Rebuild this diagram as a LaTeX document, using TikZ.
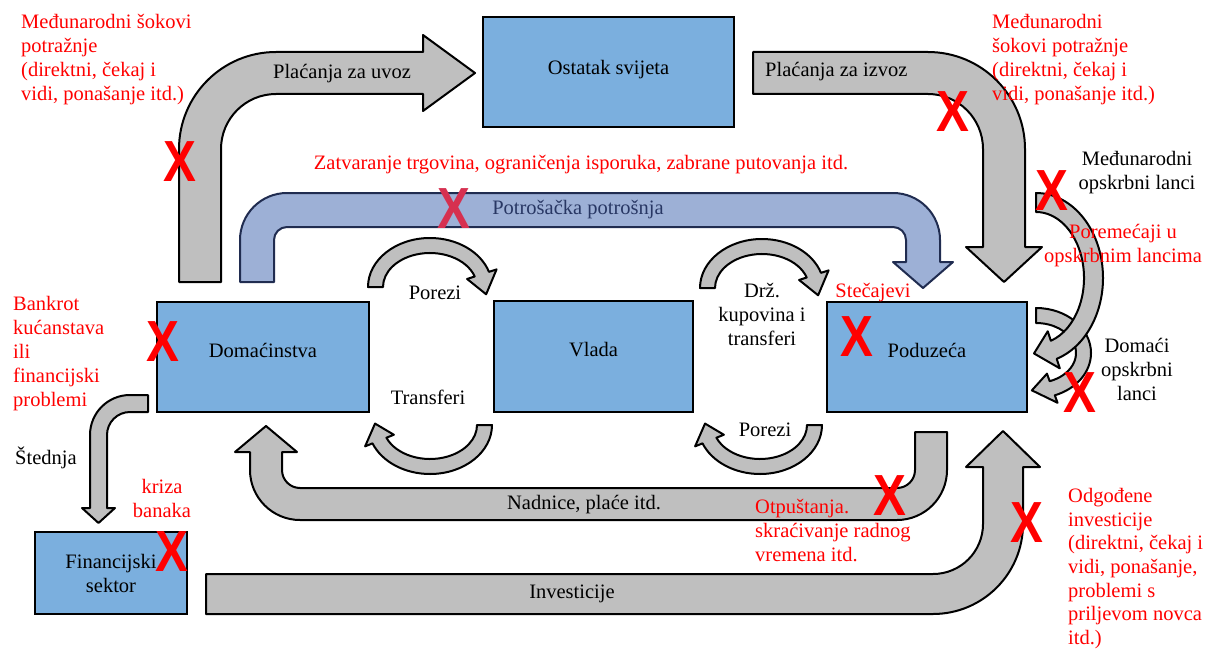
\documentclass[tikz,border=0pt]{standalone}
\usepackage{fontspec}
\setmainfont{Liberation Serif}
\newfontfamily\xfont{Liberation Sans}
\usepackage{graphicx}
\definecolor{boxblue}{RGB}{123,175,222}
\definecolor{arrowgray}{RGB}{191,191,191}
\definecolor{arrowblue}{RGB}{157,176,214}
\definecolor{navyline}{RGB}{32,44,80}
\definecolor{navytext}{RGB}{40,55,100}
\definecolor{crimsonx}{RGB}{214,48,80}
\newcommand\lblfont{\fontsize{20.5}{24}\selectfont}
\newcommand\xmarkfont{\xfont\bfseries\fontsize{58}{58}\selectfont}
\newcommand\xglyph{\scalebox{0.85}[1]{X}}
\begin{document}
\begin{tikzpicture}[x=1pt,y=-1pt,
  box/.style={draw=black, line width=2.2pt, fill=boxblue, inner sep=0pt, font=\lblfont},
  garrow/.style={draw=black, line width=2pt, fill=arrowgray, line join=round},
  barrow/.style={draw=navyline, line width=2pt, fill=arrowblue, line join=round},
  lbl/.style={inner sep=0pt, font=\lblfont},
  rlbl/.style={lbl, text=red},
  xmark/.style={inner sep=0pt, text=red, font=\xmarkfont},
  toparc/.pic={
    \draw[garrow] (180:62 and 49) arc[start angle=180,end angle=342,x radius=62,y radius=49]
      -- (342:70 and 57) -- (10:57 and 42) -- (342:39 and 26) -- (342:47 and 34)
      arc[start angle=342,end angle=180,x radius=47,y radius=34] -- cycle;},
  botarc/.pic={
    \draw[garrow] (0:62 and 49) arc[start angle=0,end angle=158,x radius=62,y radius=49]
      -- (158:70 and 57) -- (182:55 and 41) -- (158:39 and 26) -- (158:47 and 34)
      arc[start angle=158,end angle=0,x radius=47,y radius=34] -- cycle;}
]
\fill[white] (0,0) rectangle (1212,650);
\useasboundingbox (0,0) rectangle (1212,650);

% big arrows
\draw[garrow] (179,282) -- (179,149) arc[start angle=180,end angle=270,radius=97] -- (423,52) -- (423,35) -- (475,73) -- (423,111) -- (423,94) -- (276,94) arc[start angle=270,end angle=180,radius=55] -- (221,282) -- cycle;
\draw[garrow] (753,52) -- (928,52) arc[start angle=270,end angle=360,radius=97] -- (1025,247) -- (1042,247) -- (1004,282) -- (966,247) -- (983,247) -- (983,149) arc[start angle=0,end angle=-90,radius=55] -- (753,94) -- cycle;
\draw[barrow] (240,282) -- (240,240) arc[start angle=180,end angle=270,radius=47] -- (893,193) arc[start angle=270,end angle=360,radius=47] -- (940,262) -- (953,262) -- (923,288) -- (893,262) -- (906,262) -- (906,240) arc[start angle=0,end angle=-90,radius=13] -- (287,227) arc[start angle=270,end angle=180,radius=13] -- (274,282) -- cycle;
\draw[garrow] (915,432) -- (947,432) -- (947,470) arc[start angle=0,end angle=90,radius=50] -- (300,520) arc[start angle=90,end angle=180,radius=50] -- (250,452) -- (235,452) -- (266,426) -- (297,452) -- (282,452) -- (282,470) arc[start angle=180,end angle=90,radius=18] -- (897,488) arc[start angle=90,end angle=0,radius=18] -- cycle;
\draw[garrow] (206,574) -- (933,574) arc[start angle=90,end angle=0,radius=50] -- (983,467) -- (966,467) -- (1003,431) -- (1040,467) -- (1023,467) -- (1023,524) arc[start angle=0,end angle=90,radius=90] -- (206,614) -- cycle;
\draw[garrow] (148,395) -- (130,395) arc[start angle=270,end angle=180,radius=40] -- (90,508) -- (82,508) -- (98.5,523) -- (115,508) -- (107,508) -- (107,435) arc[start angle=180,end angle=270,radius=23] -- (148,412) -- cycle;

% small arcs
\pic at (430,287) {toparc};
\pic at (762,288) {toparc};
\pic at (430,425) {botarc};
\pic at (760,425) {botarc};

% supply chain arcs
\begin{scope}[shift={(1036,353)}]
\draw[garrow] (-90:55 and 45) arc[start angle=-90,end angle=70,x radius=55,y radius=45] -- (70:63 and 53) -- (95:47.5 and 37.5) -- (70:32 and 22) -- (70:40 and 30) arc[start angle=70,end angle=-90,x radius=40,y radius=30] -- cycle;
\end{scope}
\begin{scope}[shift={(1036,278)}]
\draw[garrow] (-90:67 and 85) arc[start angle=-90,end angle=72,x radius=67,y radius=85] -- (72:77 and 95) -- (92:57.5 and 75.5) -- (72:38 and 56) -- (72:48 and 66) arc[start angle=72,end angle=-90,x radius=48,y radius=66] -- cycle;
\end{scope}

% boxes
\node[box, minimum width=251pt, minimum height=110pt, text height=14pt, text depth=8pt] (ostatak) at (608.5,72) {Ostatak svijeta};
\node[box, minimum width=212pt, minimum height=110pt, text height=14pt, text depth=14pt] (dom) at (263,357) {Domaćinstva};
\node[box, minimum width=199pt, minimum height=111pt, text height=14pt, text depth=14pt] (vlada) at (593.5,356.5) {Vlada};
\node[box, minimum width=200pt, minimum height=110pt, text height=14pt, text depth=14pt] (pod) at (927,357) {Poduzeća};
\node[box, minimum width=152pt, minimum height=82pt, align=center] (fin) at (111,573) {Financijski\\sektor};

% labels
\node[lbl, anchor=base] (tuvoz) at (342,79) {Plaćanja za uvoz};
\node[lbl, anchor=base west] (tizvoz) at (765,77) {Plaćanja za izvoz};
\node[rlbl, anchor=base] (tzatv) at (581,169) {Zatvaranje trgovina, ograničenja isporuka, zabrane putovanja itd.};
\node[lbl, anchor=base, text=navytext] (tpotr) at (578,214) {Potrošačka potrošnja};
\node[lbl, anchor=base] (tpor1) at (435,299) {Porezi};
\node[lbl, anchor=base] (ttransf) at (428,404) {Transferi};
\node[lbl, anchor=north, align=center] (tdrz) at (762,283) {Drž.\\kupovina i\\transferi};
\node[lbl, anchor=base] (tpor2) at (765,436) {Porezi};
\node[rlbl, anchor=base] (tstec) at (873,297) {Stečajevi};
\node[lbl, anchor=base] (tnadn) at (584,509) {Nadnice, plaće itd.};
\node[lbl, anchor=base] (tinv) at (572,598) {Investicije};
\node[lbl, anchor=base west] (tsted) at (15,464) {Štednja};
\node[rlbl, anchor=north west, align=left] (ttl) at (21,14) {Međunarodni šokovi\\potražnje\\(direktni, čekaj i\\vidi, ponašanje itd.)};
\node[rlbl, anchor=north west, align=left] (ttr) at (992,14) {Međunarodni\\šokovi potražnje\\(direktni, čekaj i\\vidi, ponašanje itd.)};
\node[lbl, anchor=north, align=center] (tmol) at (1137,151) {Međunarodni\\opskrbni lanci};
\node[rlbl, anchor=north, align=center] (tporem) at (1123,224) {Poremećaji u\\opskrbnim lancima};
\node[lbl, anchor=north, align=center] (tdom) at (1137,338) {Domaći\\opskrbni\\lanci};
\node[rlbl, anchor=north west, align=left] (tbank) at (13,296) {Bankrot\\kućanstava\\ili\\financijski\\problemi};
\node[rlbl, anchor=north, align=center] (tkriza) at (162,479) {kriza\\banaka};
\node[rlbl, anchor=north west, align=left] (totp) at (755,499) {Otpuštanja.\\skraćivanje radnog\\vremena itd.};
\node[rlbl, anchor=north west, align=left, font=\fontsize{20.5}{23.7}\selectfont] (todg) at (1068,488) {Odgođene\\investicije\\(direktni, čekaj i\\vidi, ponašanje,\\problemi s\\priljevom novca\\itd.)};

% X marks
\node[xmark] (x1) at (180,162) {\xglyph};
\node[xmark] (x2) at (953,112) {\xglyph};
\node[xmark] (x3) at (1052,191) {\xglyph};
\node[xmark, text=crimsonx] (x4) at (454,209) {\xglyph};
\node[xmark] (x5) at (163,342) {\xglyph};
\node[xmark] (x6) at (857,337) {\xglyph};
\node[xmark] (x7) at (1080,393) {\xglyph};
\node[xmark] (x8) at (890,496) {\xglyph};
\node[xmark] (x9) at (1027,523) {\xglyph};
\node[xmark] (x10) at (172,552) {\xglyph};
\end{tikzpicture}
\end{document}
